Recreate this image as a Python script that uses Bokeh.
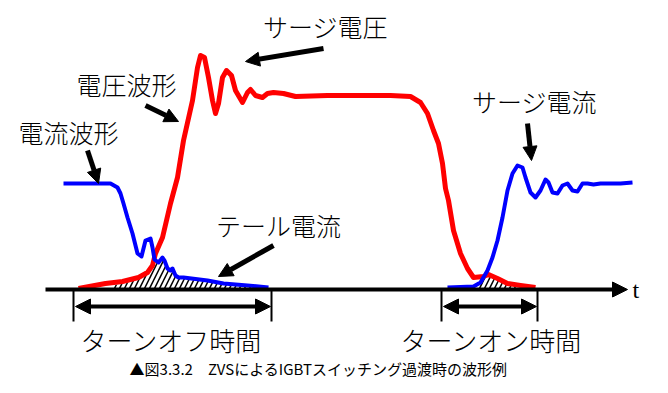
from bokeh.plotting import figure
from bokeh.models import Arrow, NormalHead, Range1d
from bokeh.core.properties import value
from bokeh.embed import file_html
from bokeh.resources import INLINE

# ---- data (diagram coordinates) ----
# turn-off current (blue)
ioff_x = [63, 110, 117, 120, 123, 127, 132, 137, 141, 143, 145, 150, 152, 154, 158, 162, 164, 167, 170, 172, 175, 178, 183, 207, 223, 247, 268]
ioff_y = [183, 183, 187, 193, 203, 217, 233, 253, 256, 248, 240, 238, 247, 259, 262, 257, 260, 268, 270, 268, 275, 277, 277, 280, 283, 285, 287]
# voltage (red)
v_x = [78, 105, 122, 138, 147, 152, 155, 162, 170, 177, 183, 192, 197, 200, 204, 208, 212, 215, 218, 222, 226, 231, 235, 242, 247, 250, 255, 262, 267, 273, 283, 295, 327, 390, 410, 420, 427, 433, 438, 442, 445, 448, 453, 460, 467, 473, 483, 488, 497, 507, 520, 535]
v_y = [288, 283, 281, 277, 272, 265, 253, 237, 203, 177, 140, 100, 67, 55, 57, 77, 100, 113, 103, 77, 70, 75, 90, 102, 92, 89, 95, 97, 93, 92, 93, 96, 95, 95, 96, 102, 113, 130, 143, 163, 188, 200, 230, 253, 268, 277, 276, 274, 278, 283, 285, 287]
# turn-on current (blue)
ion_x = [447, 473, 480, 487, 492, 497, 502, 507, 512, 517, 522, 525, 530, 535, 540, 545, 548, 552, 557, 562, 567, 572, 577, 582, 587, 593, 600, 607, 620, 632]
ion_y = [287, 286, 282, 270, 257, 240, 217, 190, 173, 165, 167, 177, 192, 197, 190, 179, 182, 192, 193, 185, 183, 190, 191, 183, 183, 184, 183, 183, 183, 182]
# loss (hatched) regions
loss_off_x = [112, 130, 145, 152, 155, 158, 162, 164, 167, 170, 172, 175, 183, 207, 223, 247, 268]
loss_off_y = [285, 281, 275, 266, 260, 262, 257, 260, 268, 270, 268, 275, 277, 280, 283, 285, 287]
loss_on_x = [476, 480, 483, 488, 497, 507, 516]
loss_on_y = [286, 282, 277, 274, 278, 283, 287]
baseline = 289

# labels (centre positions)
labels = ["サージ電圧", "電圧波形", "電流波形", "サージ電流", "テール電流", "ターンオフ時間", "ターンオン時間"]
label_x = [325, 126, 68, 534, 278, 171, 491]
label_y = [25, 83, 131, 100, 224, 339, 339]
label_size = ["25px", "25px", "25px", "25px", "25px", "26px", "26px"]
caption = "▲図3.3.2　ZVSによるIGBTスイッチング過渡時の波形例"

# pointer arrows: (x_start, y_start, x_end, y_end)
pointers = [(323, 48, 245, 61), (145, 105, 178, 121), (87, 150, 98, 183), (527, 123, 531, 160), (273, 245, 218, 276)]
# time brackets
off_bracket = (73, 271)
on_bracket = (441, 537)

W, H = 660, 385
p = figure(width=W, height=H, output_backend="svg", toolbar_location=None,
           x_range=Range1d(0, W), y_range=Range1d(H, 0),
           min_border=0, outline_line_color=None)
p.axis.visible = False
p.grid.visible = False
p.background_fill_color = "white"

# hatched loss areas
for hx, hy in [(loss_off_x, loss_off_y), (loss_on_x, loss_on_y)]:
    p.varea(x=hx, y1=[baseline] * len(hx), y2=hy, fill_alpha=0,
            hatch_pattern="/", hatch_color="black", hatch_scale=10, hatch_weight=1.5)

# curves
p.line(v_x, v_y, line_color="#ff0000", line_width=5, line_join="round")
p.line(ioff_x, ioff_y, line_color="#0000ff", line_width=4, line_join="round")
p.line(ion_x, ion_y, line_color="#0000ff", line_width=4, line_join="round")

# time axis
p.add_layout(Arrow(end=NormalHead(size=15, fill_color="black", line_color="black"),
                   x_start=45, y_start=baseline, x_end=627, y_end=baseline,
                   line_width=4, line_color="black"))
p.text(x=[632], y=[289], text=["t"], text_font=value("Liberation Serif"),
       text_font_size=value("24px"), text_baseline="middle", text_align="left")

# brackets
for a, b in [off_bracket, on_bracket]:
    p.segment(x0=[a, b], y0=[baseline, baseline], x1=[a, b], y1=[321, 321],
              line_color="black", line_width=2)
    p.add_layout(Arrow(start=NormalHead(size=15, fill_color="black", line_color="black"),
                       end=NormalHead(size=15, fill_color="black", line_color="black"),
                       x_start=a + 2, y_start=306, x_end=b - 1, y_end=306,
                       line_width=4, line_color="black"))

# pointers
for xs, ys, xe, ye in pointers:
    p.add_layout(Arrow(end=NormalHead(size=14, fill_color="black", line_color="black"),
                       x_start=xs, y_start=ys, x_end=xe, y_end=ye,
                       line_width=5, line_color="black"))

for lx, ly, lt, ls in zip(label_x, label_y, labels, label_size):
    p.text(x=[lx], y=[ly], text=[lt], text_font=value("Noto Sans CJK JP Light"),
           text_font_size=value(ls), text_baseline="middle", text_align="center",
           text_color="black")
p.text(x=[318], y=[368], text=[caption], text_font=value("Noto Sans CJK JP"),
       text_font_size=value("15px"), text_baseline="middle", text_align="center",
       text_color="black")

open("out.html", "w").write(file_html(p, INLINE))
